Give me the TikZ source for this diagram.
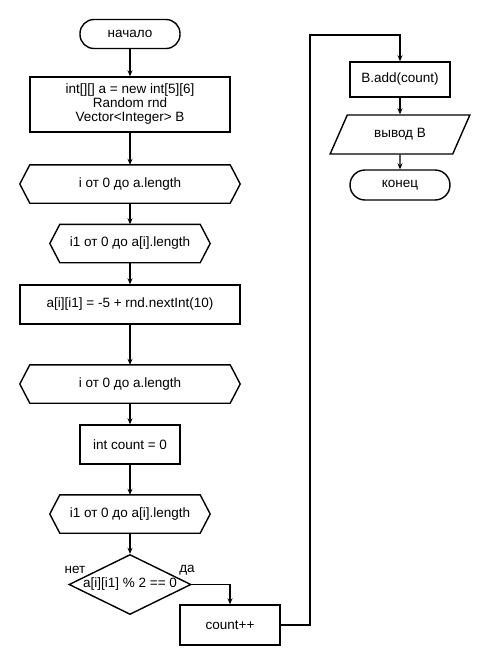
\documentclass[tikz,border=0pt]{standalone}
\usepackage{fontspec}
\setmainfont{Liberation Sans}
\usetikzlibrary{shapes.geometric, arrows.meta}

\begin{document}
\begin{tikzpicture}[x=1pt, y=-1pt, font=\fontsize{13.5}{14}\selectfont,
    proc/.style={draw, line width=1.4pt, minimum height=39pt, align=center},
    term/.style={draw, line width=1.4pt, rounded corners=14pt, minimum width=100pt, minimum height=29pt},
    loop/.style={minimum height=38pt},
    io/.style={draw, line width=1.4pt, trapezium, trapezium stretches=true, trapezium left angle=63, trapezium right angle=117, minimum width=140pt, minimum height=39pt},
    arr/.style={line width=1.4pt, -{Stealth[length=6pt, width=5pt]}}]

\useasboundingbox (0,0) rectangle (480,665);

% left column
\node[term] (start) at (130, 34) {начало};
\node[proc, minimum width=200pt, minimum height=55pt] (init) at (130, 104.5) {int[][] a = new int[5][6]\\Random rnd\\Vector<Integer> B};
\node[loop, minimum width=200pt] (fori) at (130, 184) {i от 0 до a.length};
\node[loop, minimum width=140pt] (forj) at (130, 243.5) {i1 от 0 до a[i].length};
\node[proc, minimum width=220pt] (fill) at (130, 304.5) {a[i][i1] = -5 + rnd.nextInt(10)};
\node[loop, minimum width=200pt] (forii) at (130, 384) {i от 0 до a.length};
\node[proc, minimum width=100pt] (zero) at (130, 444.5) {int count = 0};
\node[loop, minimum width=140pt] (forjj) at (130, 514) {i1 от 0 до a[i].length};
\node[draw, line width=1.4pt, diamond, minimum width=122pt, minimum height=60pt, inner sep=0pt] (test) at (130, 584.5) {\makebox[0pt]{a[i][i1] \% 2 == 0}};
\node (no) at (75, 570) {нет};
\node (yes) at (187, 570) {да};
\node[proc, minimum width=100pt, minimum height=40pt] (inc) at (230, 625) {count++};

% right column
\node[proc, minimum width=100pt, minimum height=35pt] (add) at (400, 79.5) {B.add(count)};
\node[io] (out) at (400, 134.5) {вывод B};
\node[term, minimum height=30pt, rounded corners=15pt] (stop) at (400, 185) {конец};

% loop headers
\foreach \h in {fori, forj, forii, forjj}
    \draw[line width=1.4pt] ([xshift=-10pt]\h.west) -- (\h.north west) -- (\h.north east)
        -- ([xshift=10pt]\h.east) -- (\h.south east) -- (\h.south west) -- cycle;

% connectors
\draw[arr] (start) -- (init);
\draw[arr] (init) -- (fori);
\draw[arr] (fori) -- (forj);
\draw[arr] (forj) -- (fill);
\draw[arr] (fill) -- (forii);
\draw[arr] (forii) -- (zero);
\draw[arr] (zero) -- (forjj);
\draw[arr] (forjj) -- (test);
\draw[arr] (test.east) -| (inc.north);
\coordinate (up) at (310, 35);
\draw[arr] (inc.east) -| (up) -| (add.north);
\draw[arr] (add) -- (out);
\draw[arr] (out) -- (stop);

\end{tikzpicture}
\end{document}
